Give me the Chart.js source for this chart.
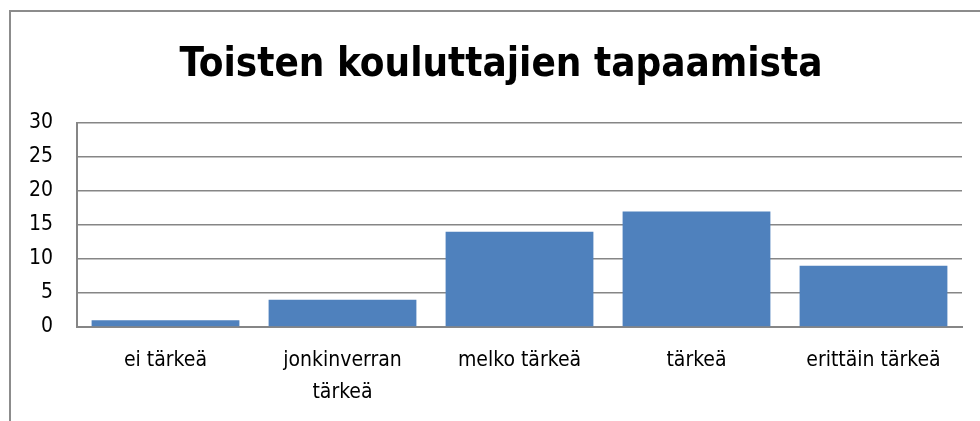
<!DOCTYPE html>
<html>
<head>
<meta charset="utf-8">
<script src="https://cdn.jsdelivr.net/npm/chart.js@4/dist/chart.umd.min.js"></script>
<style>
html, body { margin: 0; padding: 0; background: #fff; overflow: hidden; }
#wrap { position: relative; width: 980px; height: 421px; }
#frame { position: absolute; left: 9px; top: 10px; width: 1000px; height: 500px;
	border-left: 2px solid #8c8c8c; border-top: 2px solid #8c8c8c; }
canvas { position: absolute; left: 0; top: 0; }
</style>
</head>
<body>
<div id="wrap">
	<div id="frame"></div>
	<canvas id="myChart" width="980" height="421"></canvas>
</div>
<script>
var titleText = 'Toisten kouluttajien tapaamista';
var categories = ['ei tärkeä', ['jonkinverran', 'tärkeä'], 'melko tärkeä', 'tärkeä', 'erittäin tärkeä'];
var values = [1, 4, 14, 17, 9];
var yTicks = [0, 5, 10, 15, 20, 25, 30];

var fontFam = '"DejaVu Sans Condensed", "Liberation Sans", Arial, sans-serif';

var ctx = document.getElementById('myChart').getContext('2d');
var myChart = new Chart(ctx, {
	type: 'bar',
	data: {
		labels: categories,
		datasets: [{
			data: values,
			backgroundColor: '#4f81bd',
			borderWidth: 0,
			categoryPercentage: 1.0,
			barPercentage: 0.835
		}]
	},
	options: {
		responsive: false,
		animation: false,
		// uneven padding so the title sits where the original has it
		layout: { padding: { left: 22, right: 0, top: 0, bottom: 0 } },
		plugins: {
			legend: { display: false },
			tooltip: { enabled: false },
			title: {
				display: true,
				text: titleText,
				color: '#000',
				font: { family: fontFam, size: 40, weight: 'bold' },
				padding: { top: 42, bottom: 33 }
			}
		},
		scales: {
			x: {
				grid: { display: false, drawTicks: false },
				border: { color: '#868686', width: 2 },
				ticks: {
					color: '#000',
					font: { family: fontFam, size: 21, lineHeight: 1.55 },
					padding: 17,
					maxRotation: 0,
					autoSkip: false
				},
				afterFit: function (s) { s.height = 94; }
			},
			y: {
				min: 0,
				max: 30,
				afterBuildTicks: function (s) { s.ticks = yTicks.map(function (v) { return { value: v }; }); },
				grid: { color: '#868686', lineWidth: 1.5, drawTicks: false },
				border: { color: '#868686', width: 2 },
				ticks: {
					color: '#000',
					font: { family: fontFam, size: 21 },
					padding: 24
				},
				afterFit: function (s) { s.width = 55; }
			},
			// empty spacer on the right
			yRight: {
				position: 'right',
				grid: { display: false, drawTicks: false },
				border: { display: false },
				ticks: { display: false },
				afterFit: function (s) { s.width = 18; }
			}
		}
	}
});
</script>
</body>
</html>
